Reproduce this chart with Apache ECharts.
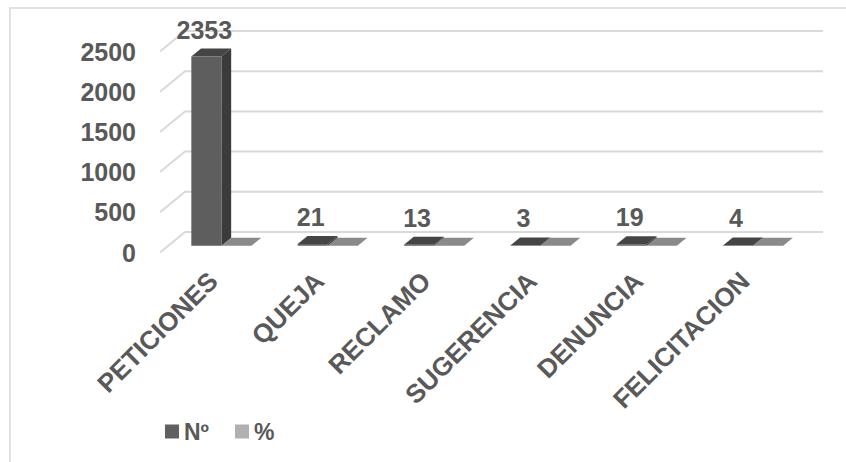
<!DOCTYPE html>
<html>
<head>
<meta charset="utf-8">
<script src="https://cdn.jsdelivr.net/npm/echarts@6/dist/echarts.min.js"></script>
<style>
  html, body { margin: 0; padding: 0; background: #ffffff; }
  #chart { width: 846px; height: 462px; }
</style>
</head>
<body>
<div id="chart"></div>
<script>
// Solicitudes recibidas por tipo: cantidad (Nº) y proporción (%)
const categories = ['PETICIONES', 'QUEJA', 'RECLAMO', 'SUGERENCIA', 'DENUNCIA', 'FELICITACION'];
const countValues = [2353, 21, 13, 3, 19, 4];
const pctValues = [0.9751, 0.0087, 0.0054, 0.0012, 0.0079, 0.0017];
const yTicks = [0, 500, 1000, 1500, 2000, 2500];
const seriesNames = ['Nº', '%'];

// Pseudo-3D depth of the plot box (back wall offset from the front plane)
const DEPTH_X = 25;
const DEPTH_Y = -20.5;
// Where the columns sit inside that depth (fraction from front to back)
const COL_FRONT = 0.33;
const COL_BACK = 0.72;

const FONT = "'Liberation Sans', Arial, sans-serif";
const TEXT_COLOR = '#595959';

const faces = [
  { front: '#5e5e5e', side: '#3b3b3b', top: '#454545' },
  { front: '#9a9a9a', side: '#777777', top: '#8a8a8a' }
];

// Back wall gridlines plus the receding lines on the left side wall
function renderWall(params, api) {
  const cs = params.coordSys;
  const y = api.coord([0, api.value(1)])[1];
  const x0 = cs.x;
  const x1 = cs.x + cs.width;
  return {
    type: 'polyline',
    shape: {
      points: [
        [x0, y],
        [x0 + DEPTH_X, y + DEPTH_Y],
        [x1 + DEPTH_X, y + DEPTH_Y]
      ]
    },
    style: { stroke: '#d9d9d9', lineWidth: 2, fill: null },
    silent: true
  };
}

// A column drawn as a prism: front face, right side and top
function makeColumnRenderer(slot, withLabel) {
  return function (params, api) {
    const i = api.value(0);
    const v = api.value(1);
    const band = api.size([1, 0])[0];
    const w = band * 0.283;
    const cx = api.coord([i, 0])[0];
    const y0 = api.coord([i, 0])[1];
    const yv = api.coord([i, v])[1];
    const xl = slot === 0 ? cx - w : cx;
    const fx = DEPTH_X * COL_FRONT, fy = DEPTH_Y * COL_FRONT;
    const bx = DEPTH_X * COL_BACK, by = DEPTH_Y * COL_BACK;
    const c = faces[slot];
    const children = [
      {
        type: 'polygon',
        shape: { points: [[xl + fx, yv + fy], [xl + w + fx, yv + fy], [xl + w + bx, yv + by], [xl + bx, yv + by]] },
        style: { fill: c.top }
      },
      {
        type: 'polygon',
        shape: { points: [[xl + w + fx, yv + fy], [xl + w + bx, yv + by], [xl + w + bx, y0 + by], [xl + w + fx, y0 + fy]] },
        style: { fill: c.side }
      },
      {
        type: 'rect',
        shape: { x: xl + fx, y: yv + fy, width: w, height: Math.max(0, y0 - yv) },
        style: { fill: c.front }
      }
    ];
    if (withLabel) {
      children.push({
        type: 'text',
        x: xl + fx + w / 2 - 2,
        y: yv + fy - 27,
        style: {
          text: String(v),
          fill: TEXT_COLOR,
          font: 'bold 25px ' + FONT,
          align: 'center',
          verticalAlign: 'middle'
        }
      });
    }
    return { type: 'group', children: children };
  };
}

const chart = echarts.init(document.getElementById('chart'), null, { renderer: 'svg' });

chart.setOption({
  backgroundColor: '#ffffff',
  animation: false,
  graphic: [
    {
      type: 'rect',
      shape: { x: 10, y: 8, width: 845, height: 470 },
      style: { fill: null, stroke: '#d9d9d9', lineWidth: 1.5 },
      silent: true
    }
  ],
  grid: { left: 160, right: 48, top: 51.5, bottom: 209.5, containLabel: false },
  legend: {
    data: seriesNames,
    left: 160,
    top: 415,
    icon: 'rect',
    itemWidth: 14,
    itemHeight: 14,
    itemGap: 26,
    textStyle: { color: TEXT_COLOR, fontFamily: FONT, fontWeight: 'bold', fontSize: 23 }
  },
  xAxis: {
    type: 'category',
    data: categories,
    axisLine: { show: false },
    axisTick: { show: false },
    splitLine: { show: false },
    axisLabel: {
      interval: 0,
      rotate: 45,
      margin: 24,
      color: TEXT_COLOR,
      fontFamily: FONT,
      fontWeight: 'bold',
      fontSize: 26
    }
  },
  yAxis: {
    type: 'value',
    min: 0,
    max: 2500,
    interval: 500,
    axisLine: { show: false },
    axisTick: { show: false },
    splitLine: { show: false },
    axisLabel: {
      margin: 24,
      color: TEXT_COLOR,
      fontFamily: FONT,
      fontWeight: 'bold',
      fontSize: 25,
      formatter: function (v) { return String(v); }
    }
  },
  series: [
    {
      type: 'custom',
      name: 'wall',
      silent: true,
      z: 1,
      renderItem: renderWall,
      data: yTicks.map(function (t) { return [0, t]; }),
      encode: { x: 0, y: 1 }
    },
    {
      type: 'custom',
      name: seriesNames[1],
      z: 2,
      itemStyle: { color: '#b0b0b0' },
      renderItem: makeColumnRenderer(1, false),
      data: pctValues.map(function (v, i) { return [i, v]; }),
      encode: { x: 0, y: 1 }
    },
    {
      type: 'custom',
      name: seriesNames[0],
      z: 3,
      itemStyle: { color: '#606060' },
      renderItem: makeColumnRenderer(0, true),
      data: countValues.map(function (v, i) { return [i, v]; }),
      encode: { x: 0, y: 1 }
    }
  ]
});
</script>
</body>
</html>
